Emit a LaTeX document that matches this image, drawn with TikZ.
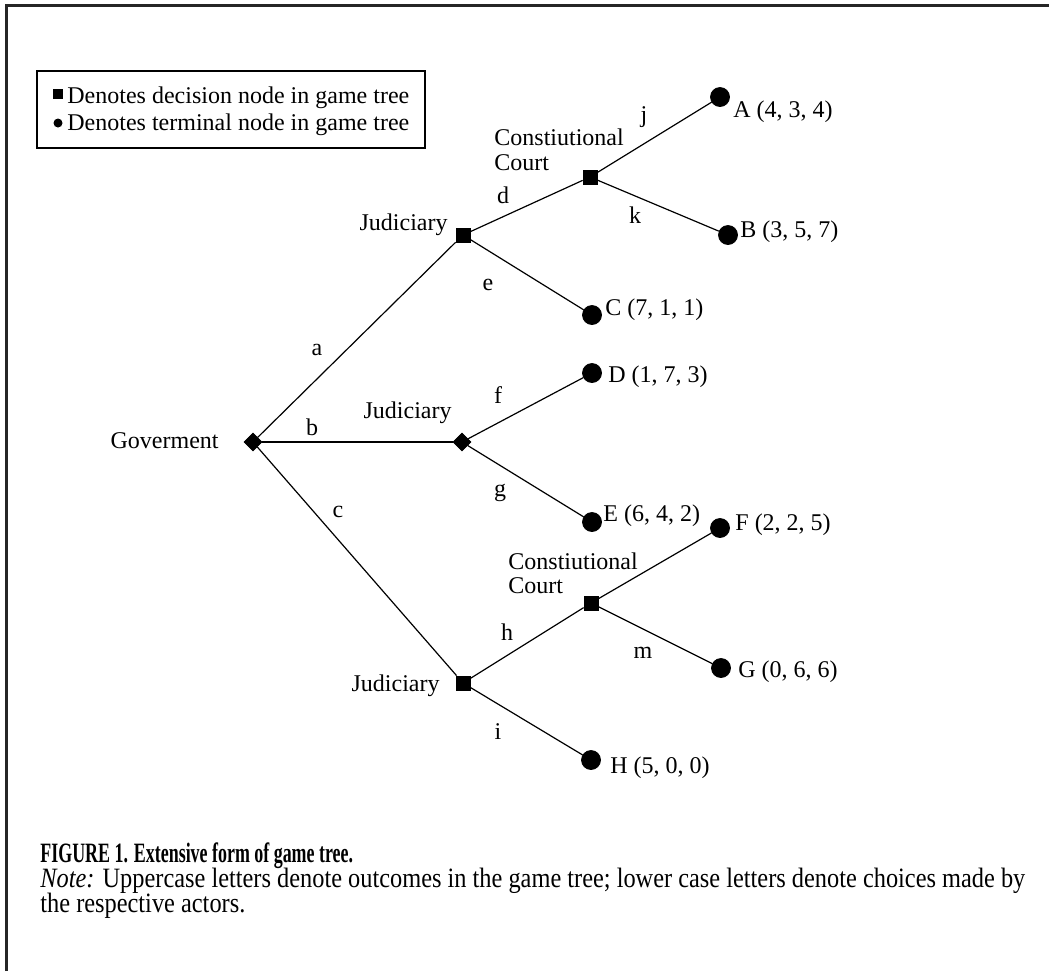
\documentclass[tikz,border=0pt]{standalone}
\usepackage{fontspec}
\setmainfont{Liberation Serif}
\newfontfamily\capfont[FakeStretch=0.87]{Liberation Serif}
\newfontfamily\capboldfont[FakeStretch=0.64]{Liberation Serif}
\usetikzlibrary{shapes.geometric}

\begin{document}
\begin{tikzpicture}[x=0.5pt,y=-0.5pt,
    every node/.style={font=\fontsize{12}{14}\selectfont},
    dec/.style={draw,fill,shape=rectangle,minimum size=7pt,inner sep=0pt},
    decd/.style={draw,fill,shape=diamond,minimum size=9pt,inner sep=0pt},
    term/.style={draw,fill,shape=circle,minimum size=9.5pt,inner sep=0pt},
    txt/.style={inner sep=0pt,anchor=base west},
    actor/.style={inner sep=0pt,anchor=base east},
    lbl/.style={inner sep=0pt},
    branch/.style={line width=0.6pt}]
    \useasboundingbox (0,0) rectangle (1049,971);
    % frame (only top and left edges show)
    \draw[line width=1.5pt,black!85] (6,971) -- (6,5) -- (1049,5);

    % key
    \draw[line width=1pt] (37,71) rectangle (425,148);
    \node[fill,shape=rectangle,minimum size=5pt,inner sep=0pt] (keysq) at (58,94) {};
    \node[fill,shape=circle,minimum size=4.5pt,inner sep=0pt] (keydot) at (58,123) {};
    \node[txt] (keydec) at (67,103) {Denotes decision node in game tree};
    \node[txt] (keyterm) at (67,130) {Denotes terminal node in game tree};

    % decision nodes
    \node[decd] (gov) at (253,442) {};
    \node[dec] (jud1) at (463,235) {};
    \node[decd] (jud2) at (462,442) {};
    \node[dec] (jud3) at (463,683) {};
    \node[dec] (court1) at (590,177) {};
    \node[dec] (court2) at (591,603) {};

    % terminal nodes
    \node[term] (outA) at (720,97) {};
    \node[term] (outB) at (728,235) {};
    \node[term] (outC) at (592,315) {};
    \node[term] (outD) at (592,373) {};
    \node[term] (outE) at (592,522) {};
    \node[term] (outF) at (720,528) {};
    \node[term] (outG) at (721,668) {};
    \node[term] (outH) at (591,760) {};

    % branches
    \draw[branch] (gov) -- (jud1);
    \draw[branch] (gov) -- (jud2);
    \draw[branch] (gov) -- (jud3);
    \draw[branch] (jud1) -- (court1);
    \draw[branch] (jud1) -- (outC);
    \draw[branch] (court1) -- (outA);
    \draw[branch] (court1) -- (outB);
    \draw[branch] (jud2) -- (outD);
    \draw[branch] (jud2) -- (outE);
    \draw[branch] (jud3) -- (court2);
    \draw[branch] (jud3) -- (outH);
    \draw[branch] (court2) -- (outF);
    \draw[branch] (court2) -- (outG);

    % actors
    \node[actor] (govtxt) at (219,448) {Goverment};
    \node[actor] (jud1txt) at (448,230) {Judiciary};
    \node[actor] (jud2txt) at (452,418) {Judiciary};
    \node[actor] (jud3txt) at (440,691) {Judiciary};
    \node[txt] (court1txt) at (494,145) {Constiutional};
    \node[txt] (court1txtb) at (494,170) {Court};
    \node[txt] (court2txt) at (508,569) {Constiutional};
    \node[txt] (court2txtb) at (508,593) {Court};

    % choices
    \node[lbl] (cha) at (317,350) {a};
    \node[lbl] (chb) at (312,427) {b};
    \node[lbl] (chc) at (338,512) {c};
    \node[lbl] (chd) at (503,195) {d};
    \node[lbl] (che) at (488,285) {e};
    \node[lbl] (chf) at (498,395) {f};
    \node[lbl] (chg) at (500,493) {g};
    \node[lbl] (chh) at (507,632) {h};
    \node[lbl] (chi) at (498,732) {i};
    \node[lbl] (chj) at (644,117) {j};
    \node[lbl] (chk) at (635,215) {k};
    \node[lbl] (chm) at (643,653) {m};

    % outcomes
    \node[txt] (payA) at (733,117) {A (4, 3, 4)};
    \node[txt] (payB) at (740,237) {B (3, 5, 7)};
    \node[txt] (payC) at (605,315) {C (7, 1, 1)};
    \node[txt] (payD) at (608,382) {D (1, 7, 3)};
    \node[txt] (payE) at (603,521) {E (6, 4, 2)};
    \node[txt] (payF) at (735,530) {F (2, 2, 5)};
    \node[txt] (payG) at (738,677) {G (0, 6, 6)};
    \node[txt] (payH) at (610,773) {H (5, 0, 0)};

    % caption
    \node[txt,font=\capboldfont\bfseries\fontsize{14}{15}\selectfont] (figcap) at (40,862) {FIGURE 1. Extensive form of game tree.};
    \node[txt,font=\capfont\fontsize{14}{15}\selectfont] (note) at (40,887) {\textit{Note:} Uppercase letters denote outcomes in the game tree; lower case letters denote choices made by};
    \node[txt,font=\capfont\fontsize{14}{15}\selectfont] (noteb) at (40,912) {the respective actors.};
\end{tikzpicture}
\end{document}
